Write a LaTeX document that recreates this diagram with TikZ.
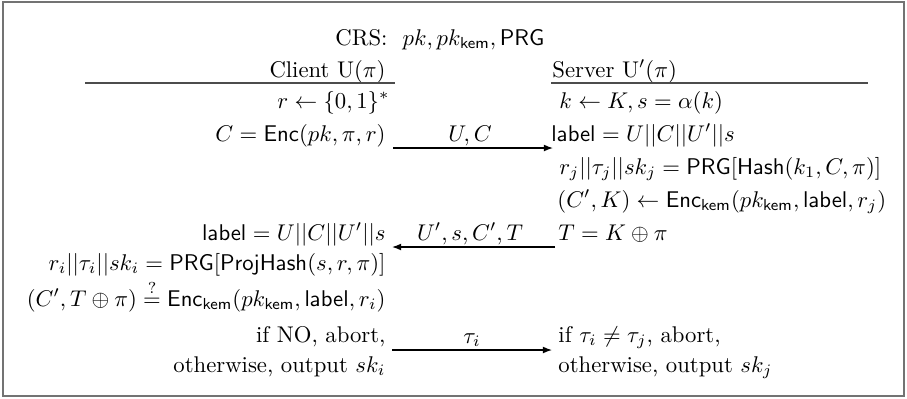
\documentclass[tikz,border=0pt]{standalone}
\usetikzlibrary{arrows.meta}
\begin{document}
\begin{tikzpicture}[x=0.44pt,y=-0.44pt,
  lcol/.style={anchor=base east,inner sep=0pt},
  rcol/.style={anchor=base west,inner sep=0pt},
  msg/.style={anchor=base,inner sep=0pt},
  flow/.style={line width=0.5pt,-{Latex[length=4pt,width=3pt]}},
  rulebar/.style={line width=0.5pt,black!70},
  frame/.style={line width=0.6pt,black!55}]
\useasboundingbox (0,0) rectangle (907,398);
\draw[frame] (3,2) rectangle (904,396);

% common reference string
\node[rcol] (crs) at (335,45) {CRS:~~$pk, pk_{\mathsf{kem}}, \mathsf{PRG}$};

% party headers
\node[lcol] (client) at (386,77) {Client U$(\pi)$};
\node[rcol] (server) at (552,77) {Server $\mathrm{U}'(\pi)$};
\draw[rulebar] (85,83) -- (395,83);
\draw[rulebar] (551,83) -- (868,83);

% client side
\node[lcol] (c1) at (390,108) {$r \leftarrow \{0,1\}^*$};
\node[lcol] (c2) at (386,141) {$C = \mathsf{Enc}(pk,\pi,r)$};
\node[lcol] (c3) at (386,240) {$\mathsf{label} = U||C||U'||s$};
\node[lcol] (c4) at (386,270) {$r_i||\tau_i||sk_i = \mathsf{PRG}[\mathsf{ProjHash}(s,r,\pi)]$};
\node[lcol] (c5) at (386,306) {$(C',T\oplus\pi) \stackrel{?}{=} \mathsf{Enc}_{\mathsf{kem}}(pk_{\mathsf{kem}},\mathsf{label},r_i)$};
\node[lcol] (c6) at (386,342) {if NO, abort,};
\node[lcol] (c7) at (386,372) {otherwise, output $sk_i$};

% server side
\node[rcol] (s1) at (559,108) {$k \leftarrow K, s = \alpha(k)$};
\node[rcol] (s2) at (551,141) {$\mathsf{label} = U||C||U'||s$};
\node[rcol] (s3) at (559,174) {$r_j||\tau_j||sk_j = \mathsf{PRG}[\mathsf{Hash}(k_1,C,\pi)]$};
\node[rcol] (s4) at (557,207) {$(C',K) \leftarrow \mathsf{Enc}_{\mathsf{kem}}(pk_{\mathsf{kem}},\mathsf{label},r_j)$};
\node[rcol] (s5) at (558,240) {$T = K\oplus\pi$};
\node[rcol] (s6) at (558,342) {if $\tau_i \neq \tau_j$, abort,};
\node[rcol] (s7) at (558,372) {otherwise, output $sk_j$};

% messages
\node[msg] (m1) at (470,141) {$U, C$};
\node[msg] (m2) at (470,240) {$U', s, C', T$};
\node[msg] (m3) at (472,343) {$\tau_i$};

\coordinate (a1) at (393,148);
\coordinate (b1) at (553,148);
\coordinate (a2) at (555,247);
\coordinate (b2) at (392,247);
\coordinate (a3) at (392,350);
\coordinate (b3) at (552,350);
\draw[flow] (a1) -- (b1);
\draw[flow] (a2) -- (b2);
\draw[flow] (a3) -- (b3);
\end{tikzpicture}
\end{document}
